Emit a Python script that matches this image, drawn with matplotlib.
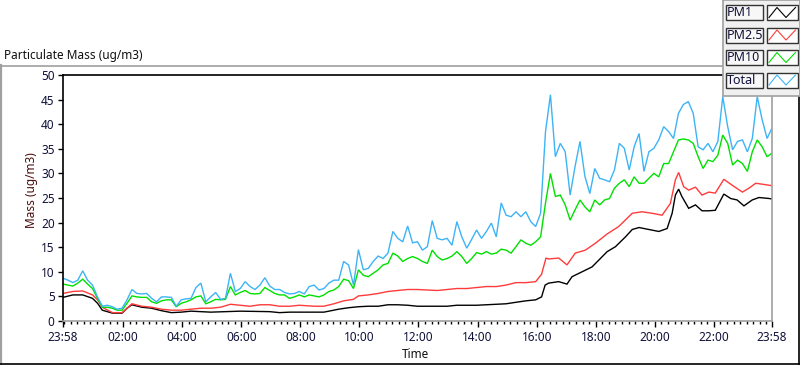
import numpy as np
import matplotlib
matplotlib.use('Agg')
import matplotlib.pyplot as plt
from matplotlib.patches import Rectangle

plt.rcParams['font.family'] = ['Noto Sans', 'DejaVu Sans']

# ---------------- data (hours since the 23:58 start) ----------------
grid_hours = np.arange(145) / 6.0   # 10-minute samples, 0 .. 24 h

total_vals = [
    8.7, 8.3, 7.8, 8.3, 10.2, 8.3, 7.3, 4.9, 3.0, 3.2, 2.9, 2.4, 2.6, 4.3, 6.4, 5.6, 5.5, 5.6, 4.6, 3.9,
    4.9, 4.9, 4.8, 3.0, 4.3, 4.5, 4.6, 6.8, 7.7, 3.9, 4.9, 5.8, 4.4, 4.6, 9.7, 6.0, 6.6, 8.0, 7.0, 6.4,
    7.3, 8.8, 7.1, 6.4, 6.4, 5.8, 5.5, 5.6, 6.0,
    5.5, 7.0, 7.3, 6.3, 6.6, 7.7, 8.3, 8.3, 12.1, 11.4, 7.3, 14.5, 10.4, 10.7, 12.1, 13.2, 12.7, 13.8,
    18.2, 16.8, 16.1, 19.3, 15.9, 16.1, 14.4, 15.1, 20.4, 16.8, 16.5, 16.8, 15.4, 20.2, 17.1, 14.8, 16.6,
    18.5, 16.8, 18.2, 19.9, 17.1, 24.0, 21.5, 21.2, 22.2, 21.2, 22.2, 20.2, 19.2,
    21.9, 38.5, 46.0, 33.4, 36.1, 34.4, 25.6, 31.4, 36.5, 29.4, 25.9, 31.0, 29.0, 28.7, 28.3, 30.7,
    36.1, 35.1, 30.7, 35.4, 38.1, 30.4, 34.4, 35.1, 36.8, 39.5, 38.5, 37.1, 42.2, 44.0, 44.6, 42.2,
    35.4, 34.8, 36.1, 34.4, 36.5, 45.6, 39.5, 34.8, 36.5, 36.8, 34.4, 37.1, 45.6, 40.9, 37.1, 39.2,
]

pm10_vals = [
    7.5, 7.3, 7.1, 7.7, 8.5, 7.5, 6.6, 4.6, 2.8, 2.8, 2.6, 2.2, 2.2, 3.6, 5.1, 4.9, 4.8, 4.8, 3.9, 3.6,
    4.1, 4.3, 4.3, 2.9, 3.6, 3.9, 4.3, 4.9, 5.1, 3.5, 3.9, 4.4, 4.3, 4.4, 7.0, 5.3, 5.8, 6.2, 5.6, 5.5,
    5.6, 6.8, 6.2, 5.6, 5.3, 5.3, 4.6, 4.9, 5.3,
    4.9, 5.3, 5.1, 4.9, 5.3, 6.0, 6.3, 7.0, 8.5, 8.2, 6.6, 10.4, 9.3, 9.0, 9.7, 10.4, 11.4, 11.7,
    13.8, 13.2, 12.1, 12.7, 13.1, 12.7, 12.1, 11.7, 14.4, 13.1, 12.4, 12.7, 13.2, 14.1, 13.1, 11.7, 12.7,
    13.9, 13.6, 14.1, 13.6, 13.8, 14.6, 14.4, 13.8, 15.1, 16.5, 15.8, 15.4, 16.1,
    17.1, 24.0, 30.0, 25.3, 25.6, 23.6, 20.5, 22.6, 24.6, 23.2, 22.2, 24.6, 23.6, 24.6, 24.9, 27.0,
    28.0, 28.7, 27.3, 29.3, 28.0, 28.0, 29.0, 30.0, 29.3, 32.0, 32.0, 34.4, 36.8, 37.0, 36.8, 36.1,
    33.4, 31.0, 32.7, 32.4, 33.7, 37.8, 36.1, 31.7, 32.7, 32.0, 30.4, 34.4, 36.8, 35.4, 33.4, 34.1,
]

pm25_hours = [
    0, 0.33, 0.67, 1.0, 1.17, 1.33, 1.67, 2.0, 2.17, 2.33, 2.67, 3.0, 3.33, 3.67, 4.0, 4.33, 4.67, 5.0,
    5.33, 5.67, 6.0, 6.33, 6.67, 7.0, 7.33, 7.67, 8.0, 8.5, 8.83, 9.17, 9.5, 9.83, 10.0, 10.33, 10.67,
    11.0, 11.33, 11.67, 12.0, 12.33, 12.67, 13.0, 13.33, 13.67, 14.0, 14.33, 14.67, 15.0, 15.33, 15.67,
    16.0, 16.2, 16.35, 16.44, 16.78, 17.06, 17.34, 17.68, 18.02, 18.42, 18.81, 19.27, 19.6, 19.94,
    20.28, 20.56, 20.73, 20.84, 21.01, 21.18, 21.41, 21.63, 21.86, 22.08, 22.37, 22.65, 23.0, 23.22,
    23.45, 23.9, 24.0,
]
pm25_vals = [
    5.6, 6.0, 6.1, 5.3, 4.3, 2.8, 1.7, 1.7, 2.6, 3.5, 3.0, 2.8, 2.4, 2.2, 2.2, 2.4, 2.6, 2.6,
    2.8, 3.4, 3.2, 3.0, 3.3, 3.3, 3.0, 3.0, 3.2, 3.0, 3.0, 3.5, 4.1, 4.4, 5.1, 5.3, 5.6,
    6.0, 6.2, 6.4, 6.4, 6.3, 6.2, 6.4, 6.6, 6.6, 6.8, 7.0, 7.0, 7.3, 7.8, 7.8,
    8.0, 9.5, 12.8, 12.6, 12.8, 11.4, 13.8, 14.4, 15.8, 17.7, 19.2, 21.9, 22.2, 21.9,
    21.5, 23.9, 28.7, 30.2, 27.3, 26.6, 27.2, 25.6, 26.2, 26.0, 28.8, 27.6, 26.2, 27.0,
    28.0, 27.6, 27.5,
]

pm1_hours = [
    0, 0.33, 0.67, 1.0, 1.17, 1.33, 1.67, 2.0, 2.17, 2.33, 2.67, 3.0, 3.33, 3.67, 4.0, 4.33, 5.0, 6.0,
    7.0, 7.33, 7.67, 8.0, 8.5, 8.83, 9.0, 9.33, 9.67, 10.0, 10.33, 10.67, 11.0, 11.33, 11.67, 12.0,
    13.0, 13.33, 14.0, 14.33, 14.67, 15.0, 15.33, 15.67, 16.0, 16.2, 16.32, 16.44, 16.78, 17.06, 17.23,
    17.57, 17.91, 18.19, 18.42, 18.7, 19.04, 19.27, 19.5, 19.83, 20.17, 20.45, 20.62, 20.73, 20.84,
    20.95, 21.18, 21.41, 21.63, 21.86, 22.08, 22.37, 22.6, 22.82, 23.05, 23.33, 23.56, 23.9, 24.0,
]
pm1_vals = [
    4.8, 5.3, 5.3, 4.6, 3.6, 2.2, 1.6, 1.6, 2.6, 3.3, 2.8, 2.6, 2.1, 1.7, 1.8, 2.0, 1.8, 2.0,
    1.9, 1.7, 1.8, 1.8, 1.8, 1.8, 2.0, 2.4, 2.7, 2.9, 3.0, 3.0, 3.3, 3.3, 3.2, 3.0,
    3.0, 3.2, 3.2, 3.3, 3.4, 3.5, 3.8, 4.1, 4.3, 4.9, 7.3, 7.7, 8.0, 7.5, 9.0,
    10.0, 11.0, 12.7, 14.1, 15.1, 17.1, 18.6, 19.0, 18.6, 18.2, 18.8, 21.9, 25.6, 26.8,
    25.3, 22.9, 23.6, 22.4, 22.4, 22.5, 25.8, 24.9, 24.6, 23.4, 24.6, 25.1, 24.9, 24.8,
]

series_names = ['PM1', 'PM2.5', 'PM10', 'Total']
series_colors = ['#000000', '#ff3b3b', '#00e000', '#3db4f5']

y_ticks = [0, 5, 10, 15, 20, 25, 30, 35, 40, 45, 50]
x_tick_labels = ['23:58', '02:00', '04:00', '06:00', '08:00', '10:00', '12:00',
                 '14:00', '16:00', '18:00', '20:00', '22:00', '23:58']

# ---------------- figure ----------------
W, H = 800, 365
fig = plt.figure(figsize=(W / 100, H / 100), dpi=100)
fig.patch.set_facecolor('white')

bg = fig.add_axes([0, 0, 1, 1], zorder=0)
bg.set_xlim(0, W)
bg.set_ylim(H, 0)
bg.axis('off')
grey = '#a0a0a0'
bg.plot([0, 723], [65.5, 65.5], color=grey, lw=1.2)
bg.plot([0.8, 0.8], [65, 365], color=grey, lw=1.6)
bg.plot([0, 800], [364.3, 364.3], color='black', lw=1.2)
bg.plot([799.3, 799.3], [96, 365], color='black', lw=1.2)
bg.text(4, 55, 'Particulate Mass (ug/m3)', ha='left', va='center', fontsize=8.5, color='#111111')
bg.text(415, 354, 'Time', ha='center', va='center', fontsize=8.5, color='#111111')
bg.text(32, 190, 'Mass (ug/m3)', ha='center', va='center', rotation=90, fontsize=8.5,
        color='#4a0c0c')

ax = fig.add_axes([63 / W, 1 - 321 / H, (772 - 63) / W, (321 - 75) / H], zorder=1)
ax.set_facecolor('white')

x_sets = [pm1_hours, pm25_hours, grid_hours, grid_hours]
y_sets = [pm1_vals, pm25_vals, pm10_vals, total_vals]
for xs, ys, c in zip(x_sets, y_sets, series_colors):
    ax.plot(xs, ys, color=c, lw=1.0, solid_joinstyle='miter')

ax.set_xlim(0, 24)
ax.set_ylim(0, 50)
off = 2 / 60.0
major_pos = [0] + [h + off for h in range(2, 24, 2)] + [24]
ax.set_xticks(major_pos)
ax.set_xticklabels(x_tick_labels)
minor_pos = [off + k * 2 / 9.0 for k in range(0, 108)]
ax.set_xticks(minor_pos, minor=True)
ax.set_yticks(y_ticks)
ax.set_yticklabels([str(v) for v in y_ticks])
ax.tick_params(axis='x', which='major', length=4, width=1, pad=3, labelsize=8.5,
               colors='black', labelcolor='#10103a')
ax.tick_params(axis='x', which='minor', length=2.2, width=1, colors='black')
ax.tick_params(axis='y', which='major', length=3.5, width=1, pad=2.5, labelsize=8.5,
               colors='black', labelcolor='#10103a')
for s in ['left', 'top']:
    ax.spines[s].set_color('black')
    ax.spines[s].set_linewidth(1.2)
for s in ['right', 'bottom']:
    ax.spines[s].set_color(grey)
    ax.spines[s].set_linewidth(1.2)

# ---------------- legend panel ----------------
lx0, ly0, lw_, lh_ = 723, 0, 77, 96
lax = fig.add_axes([lx0 / W, 1 - (ly0 + lh_) / H, lw_ / W, lh_ / H], zorder=3)
lax.set_xlim(0, lw_)
lax.set_ylim(lh_, 0)
lax.set_facecolor('#f0f0f0')
lax.set_xticks([])
lax.set_yticks([])
for s in lax.spines.values():
    s.set_color(grey)
    s.set_linewidth(1.2)
row_top = [5, 27.5, 50, 72.5]
for name, c, top in zip(series_names, series_colors, row_top):
    lax.add_patch(Rectangle((2.5, top), 37.5, 15, facecolor='#f7f7f7', edgecolor='#333333', lw=1.0))
    lax.text(4.0, top + 7.8, name, ha='left', va='center', fontsize=9, color='#10103a')
    lax.add_patch(Rectangle((44, top), 30.5, 15, facecolor='white', edgecolor='#333333', lw=1.0))
    lax.plot([46, 54, 63, 72.5], [top + 12.5, top + 2.5, top + 12.5, top + 2.5], color=c, lw=0.8)

fig.savefig('out.png', dpi=100, facecolor='white')
